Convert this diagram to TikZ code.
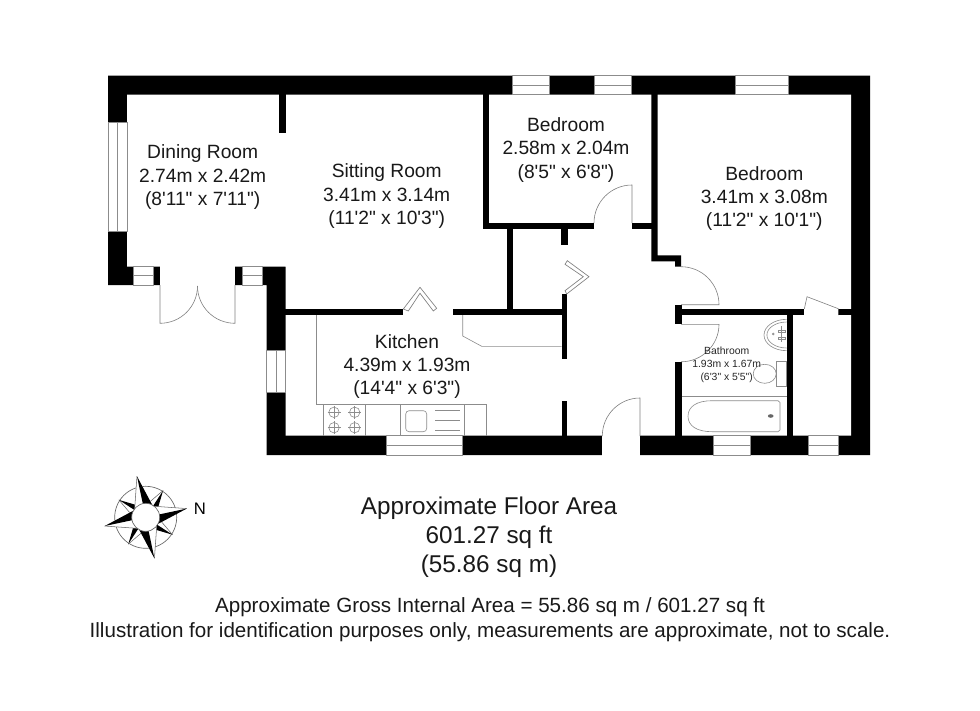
\documentclass[tikz,border=0pt]{standalone}
\usepackage{fontspec}
\usetikzlibrary{calc}
\newfontfamily\planfont{Liberation Sans}
\tikzset{
  wallfill/.style={fill=black,draw=none},
  fixture/.style={draw=black!45,line width=0.45pt,fill=none},
  doorline/.style={draw=black!50,line width=0.45pt,fill=none},
  windowbox/.style={draw=black!45,line width=0.45pt,fill=white},
  bifold/.style={draw=black!50,line width=0.5pt,fill=white},
  roomlabel/.style={font=\planfont\fontsize{14.4}{17.5}\selectfont,align=center,inner sep=0pt,text=black!90},
  smalllabel/.style={font=\planfont\fontsize{7.8}{9.8}\selectfont,align=center,inner sep=0pt,text=black!85},
  arealabel/.style={font=\planfont\fontsize{18.2}{21.8}\selectfont,align=center,inner sep=0pt,text=black!90},
  notelabel/.style={font=\planfont\fontsize{15.44}{18.8}\selectfont,align=center,inner sep=0pt,text=black!90},
}
\newcommand{\winH}[4]{\draw[windowbox] (#1,#3) rectangle (#2,#4);\draw[fixture] (#1,{(#3+#4)/2}) -- (#2,{(#3+#4)/2});}
\newcommand{\winV}[4]{\draw[windowbox] (#1,#3) rectangle (#2,#4);\draw[fixture] ({(#1+#2)/2},#3) -- ({(#1+#2)/2},#4);}
\newcommand{\burner}[2]{\draw[fixture] (#1,#2) circle (5.2);\draw[fixture] (#1-6.5,#2) -- (#1+6.5,#2) (#1,#2-6.5) -- (#1,#2+6.5);}
\begin{document}
\begin{tikzpicture}[x=0.75pt,y=-0.75pt]
\useasboundingbox (0,0) rectangle (980,710);
\fill[white] (0,0) rectangle (980,710);
% outer walls
\fill[wallfill] (108,75.5) -- (870,75.5) -- (870,455) -- (266.7,455) -- (266.7,285) -- (108,285) -- cycle;
\fill[white] (127,94.5) -- (851,94.5) -- (851,435.7) -- (285.5,435.7) -- (285.5,266.5) -- (127,266.5) -- cycle;
% gaps in the outer walls
\fill[white] (160,266) rectangle (235,286);
\fill[white] (602.3,435) rectangle (640,456);
% windows
\winV{108}{127}{122.7}{231}
\winH{133}{153}{266.5}{285}
\winH{242}{262}{266.5}{285}
\winV{266.7}{285.5}{350.7}{392}
\winH{386.7}{462.7}{435.7}{455}
\winH{713}{750.7}{435.7}{455}
\winH{808}{838.7}{435.7}{455}
\winH{512.7}{549}{75.5}{94.5}
\winH{594.5}{631}{75.5}{94.5}
\winH{735}{788.5}{75.5}{94.5}
% inner walls
\fill[wallfill] (279.3,94) rectangle (285.5,133);
\fill[wallfill] (285,308.7) rectangle (403,315);
\fill[wallfill] (453.3,308.7) rectangle (566.7,315);
\fill[wallfill] (561.7,294) rectangle (566.7,359);
\fill[wallfill] (561.7,400.7) rectangle (566.7,436);
\fill[wallfill] (482.7,94) rectangle (489,229);
\fill[wallfill] (482.7,223) rectangle (594,229);
\fill[wallfill] (632,223) rectangle (652,229);
\fill[wallfill] (561.3,228) rectangle (567.7,245.3);
\fill[wallfill] (507.3,228) rectangle (513.3,309);
\fill[wallfill] (651.3,94) -- (657.7,94) -- (657.7,255.3) -- (681,255.3) -- (681,266.7) -- (675,266.7) -- (675,261.3) -- (651.3,261.3) -- cycle;
\fill[wallfill] (675,308.7) rectangle (804.3,315);
\fill[wallfill] (838.3,308.7) rectangle (851.5,315);
\fill[wallfill] (675,304.5) rectangle (681.7,324.3);
\fill[wallfill] (675,361.7) rectangle (681.7,436);
\fill[wallfill] (786.7,314) rectangle (792.7,436);
% doors
\draw[doorline] (160,285) -- (160,323.3) arc[start angle=90,end angle=0,x radius=37.5,y radius=37.3];
\draw[doorline] (235,285) -- (235,323.3) arc[start angle=90,end angle=180,x radius=37.5,y radius=37.3];
\draw[doorline] (632,223) -- (632,185) arc[start angle=-90,end angle=-180,x radius=38,y radius=38];
\draw[doorline] (681,304.7) -- (719,304.7) arc[start angle=0,end angle=-90,x radius=38,y radius=38];
\draw[doorline] (681,324.3) -- (719,324.3) arc[start angle=0,end angle=90,x radius=38,y radius=37.5];
\draw[doorline] (640,436) -- (640,398) arc[start angle=-90,end angle=-180,x radius=37.7,y radius=38];
\draw[doorline] (804.3,309) -- (807,296.7) -- (838.3,308.7) -- (838.3,315);
% bifold doors
\draw[bifold] (403.3,309) -- (420,287.3) -- (436.7,308.3) -- (433.3,311) -- (420,293.3) -- (408.3,311) -- cycle;
\draw[bifold] (567.3,260.7) -- (589,276.7) -- (566.7,294) -- (565,290.7) -- (583.3,276.7) -- (565,264.3) -- cycle;
% kitchen fittings
\draw[fixture] (316.7,315) -- (316.7,404.3) -- (486.7,404.3) -- (486.7,435.7);
\draw[fixture] (462.7,315) -- (462.7,336) -- (481.7,346.3) -- (561.7,346.3);
\draw[fixture] (323.3,404.3) -- (323.3,435.7) (365.3,404.3) -- (365.3,435.7);
\draw[fixture] (400.3,404.3) -- (400.3,435.7) (464.7,404.3) -- (464.7,435.7);
\draw[fixture,rounded corners=2.5pt] (405.7,410.7) rectangle (426.7,431.7);
\draw[fixture] (435,410) -- (460,410) (435,420.3) -- (460,420.3) (435,430.7) -- (460,430.7);
\burner{334}{412.3}
\burner{354.7}{412.3}
\burner{334}{427.7}
\burner{354.7}{427.7}
% bathroom fittings
\draw[fixture] (786.7,319.3) arc[start angle=-90,end angle=-270,x radius=22.7,y radius=15.7];
\draw[fixture] (786.7,322) arc[start angle=-90,end angle=-270,x radius=19.8,y radius=13];
\draw[fixture] (773.3,334) circle (0.9);
\draw[fixture] (778,330) rectangle (785,332) (778,337.7) rectangle (785,339.7);
\draw[fixture] (781.5,326) -- (781.5,342);
\draw[fixture] (776,361) rectangle (786.7,386.7);
\draw[fixture] (764.7,373.8) ellipse (11.5 and 9.5);
\draw[fixture] (778,400.7) -- (780,402.5) -- (780,430) -- (778,431.7) -- (712,431.7) .. controls (697,431.7) and (688,426) .. (688,416.2) .. controls (688,406.4) and (697,400.7) .. (712,400.7) -- cycle;
\draw[fixture] (681.7,396.7) -- (786.7,396.7);
\fill[black!60] (770.7,416) ellipse (2.8 and 1.8);
% compass
\coordinate (cc) at (145.7,517.3);
\draw[draw=black!60,line width=0.5pt] (cc) circle (31);
\foreach \a in {33,123,213,303}{
  \fill[white] ($(cc)+(\a-24:14)$) -- ($(cc)+(\a:32)$) -- ($(cc)+(\a+24:14)$) -- cycle;
  \draw[draw=black!60,line width=0.4pt] ($(cc)+(\a-24:14)$) -- ($(cc)+(\a:32)$);
  \fill[black] ($(cc)+(\a:13)$) -- ($(cc)+(\a:32)$) -- ($(cc)+(\a+24:14)$) -- cycle;
}
\foreach \a in {348,78,168,258}{
  \fill[white] ($(cc)+(\a-40:14)$) -- ($(cc)+(\a:42)$) -- ($(cc)+(\a+40:14)$) -- cycle;
  \draw[draw=black!60,line width=0.4pt] ($(cc)+(\a-40:14)$) -- ($(cc)+(\a:42)$);
  \fill[black] ($(cc)+(\a:13)$) -- ($(cc)+(\a:42)$) -- ($(cc)+(\a+40:14)$) -- cycle;
}
\draw[draw=black!60,fill=white,line width=0.5pt] (cc) circle (14);
% labels
\node[font=\planfont\fontsize{12.5}{14}\selectfont,inner sep=0pt] (north) at (200,509) {N};
\node[roomlabel] (dining) at (202.7,177.2) {Dining Room\\2.74m x 2.42m\\(8'11" x 7'11")};
\node[roomlabel] (sitting) at (386.7,196.3) {Sitting Room\\3.41m x 3.14m\\(11'2" x 10'3")};
\node[roomlabel] (bedone) at (566,149.9) {Bedroom\\2.58m x 2.04m\\(8'5" x 6'8")};
\node[roomlabel] (bedtwo) at (764.3,198.6) {Bedroom\\3.41m x 3.08m\\(11'2" x 10'1")};
\node[roomlabel] (kitchen) at (407,366.5) {Kitchen\\4.39m x 1.93m\\(14'4" x 6'3")};
\node[smalllabel] (bathroom) at (726.7,365) {Bathroom\\1.93m x 1.67m\\(6'3" x 5'5")};
\node[arealabel] (area) at (489,537.5) {Approximate Floor Area\\601.27 sq ft\\(55.86 sq m)};
\node[notelabel] (note) at (490,620) {Approximate Gross Internal Area = 55.86 sq m / 601.27 sq ft\\Illustration for identification purposes only, measurements are approximate, not to scale.};
\end{tikzpicture}
\end{document}
